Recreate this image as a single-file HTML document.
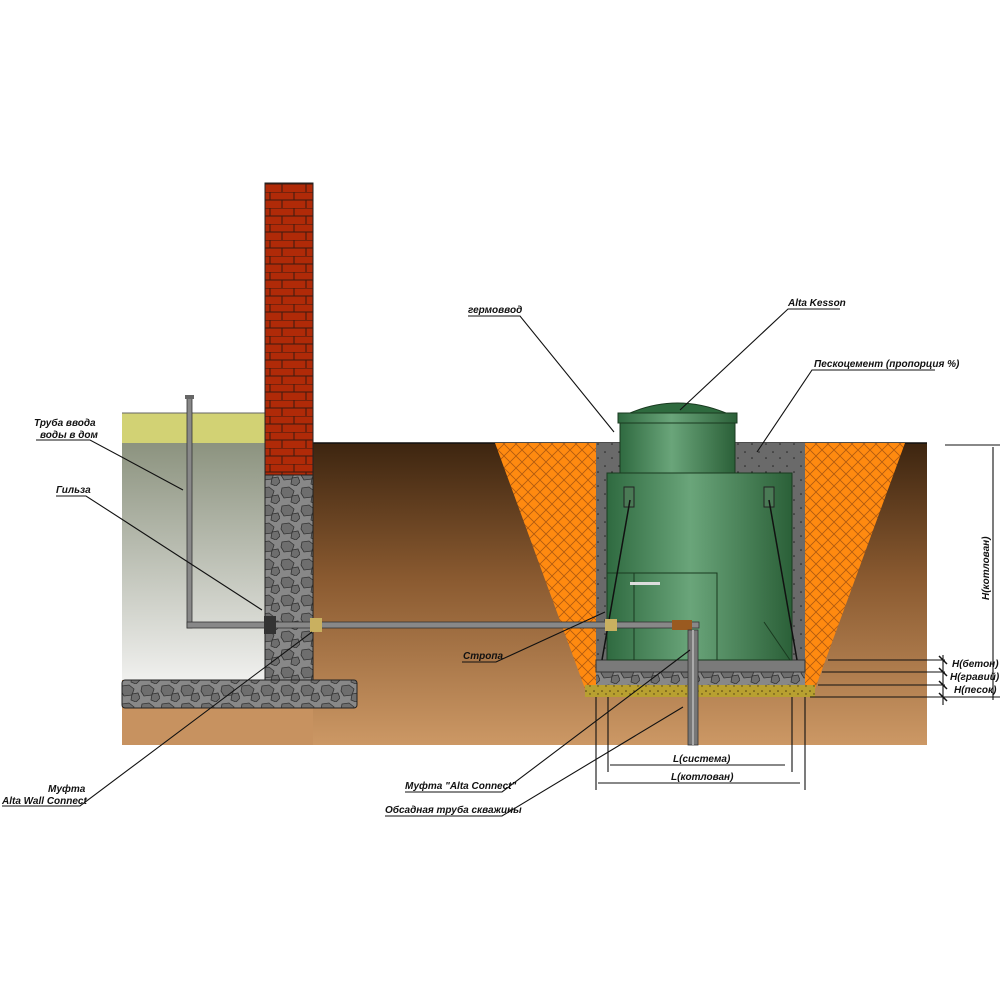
<!DOCTYPE html>
<html><head><meta charset="utf-8"><style>
html,body{margin:0;padding:0;background:#fff;}
svg{display:block}
text{font-family:"Liberation Sans",sans-serif;font-style:italic;font-weight:bold;font-size:10px;fill:#111;}
</style></head><body>
<svg width="1000" height="1000" viewBox="0 0 1000 1000" xmlns="http://www.w3.org/2000/svg">
<defs>
<linearGradient id="soil" x1="0" y1="0" x2="0" y2="1">
<stop offset="0" stop-color="#3d2510"/><stop offset="0.45" stop-color="#8a5a30"/><stop offset="1" stop-color="#cc9865"/></linearGradient>
<linearGradient id="base" x1="0" y1="0" x2="0" y2="1">
<stop offset="0" stop-color="#8c937f"/><stop offset="1" stop-color="#f0f0ee"/></linearGradient>
<linearGradient id="green" x1="0" y1="0" x2="1" y2="0">
<stop offset="0" stop-color="#2f6a40"/><stop offset="0.45" stop-color="#6aa57a"/><stop offset="1" stop-color="#2b6038"/></linearGradient>
<pattern id="brick" width="24" height="16" patternUnits="userSpaceOnUse">
<rect width="24" height="16" fill="#b02a08"/>
<path d="M0 0H24M0 8H24M6 0V8M18 8V16" stroke="#3a1a10" stroke-width="1"/></pattern>
<pattern id="stone" width="20" height="18" patternUnits="userSpaceOnUse">
<rect width="20" height="18" fill="#888"/>
<path d="M2 2l7-1 5 4-2 6-8 1-3-5zM12 10l6-1 2 5-4 4-5-2z" fill="#6e6e6e" stroke="#333" stroke-width="0.8"/></pattern>
<pattern id="net" width="12" height="12" patternUnits="userSpaceOnUse">
<rect width="12" height="12" fill="#ff8a10"/>
<path d="M0 0L12 12M12 0L0 12" stroke="#b05a10" stroke-width="0.8"/></pattern>
<pattern id="conc" width="14" height="14" patternUnits="userSpaceOnUse">
<rect width="14" height="14" fill="#6a6a6a"/>
<circle cx="3" cy="4" r="0.8" fill="#222"/><circle cx="10" cy="10" r="0.8" fill="#222"/></pattern>
<pattern id="sand" width="8" height="8" patternUnits="userSpaceOnUse">
<rect width="8" height="8" fill="#b8a030"/><circle cx="2" cy="3" r="0.8" fill="#4a3a10"/><circle cx="6" cy="6" r="0.7" fill="#4a3a10"/></pattern>
</defs>

<!-- soil -->
<rect x="313" y="443" width="614" height="302" fill="url(#soil)"/>
<rect x="122" y="680" width="191" height="65" fill="#c79260"/>
<line x1="313" y1="443" x2="927" y2="443" stroke="#111" stroke-width="1.5"/>
<!-- basement -->
<rect x="122" y="413" width="143" height="30" fill="#d2d274"/>
<rect x="122" y="443" width="143" height="237" fill="url(#base)"/>
<line x1="122" y1="413" x2="265" y2="413" stroke="#666"/>
<!-- chimney / wall -->
<rect x="265" y="183" width="48" height="292" fill="url(#brick)" stroke="#222"/>
<rect x="265" y="475" width="48" height="205" fill="url(#stone)" stroke="#222"/>
<rect x="122" y="680" width="235" height="28" rx="3" fill="url(#stone)" stroke="#222"/>

<!-- pit -->
<polygon points="495,443 905,443 812,697 588,697" fill="url(#net)"/>
<rect x="596" y="443" width="209" height="217" fill="url(#conc)"/>
<rect x="585" y="685" width="230" height="12" fill="url(#sand)"/>
<rect x="596" y="672" width="209" height="13" fill="url(#stone)"/>
<rect x="596" y="660" width="209" height="12" fill="#7a7a7a" stroke="#333"/>
<!-- caisson -->
<path d="M630 413 Q677 393 726 413Z" fill="#2e6a3e" stroke="#1a3a20"/>
<rect x="618" y="413" width="119" height="10" fill="url(#green)" stroke="#1a3a20"/>
<rect x="620" y="423" width="115" height="52" fill="url(#green)" stroke="#1a3a20"/>
<rect x="607" y="473" width="185" height="187" fill="url(#green)" stroke="#1a3a20"/>
<rect x="607" y="573" width="110" height="87" fill="none" stroke="#1a3a20"/>
<line x1="634" y1="573" x2="634" y2="660" stroke="#1a3a20"/>
<rect x="630" y="582" width="30" height="3" fill="#ddd"/>
<rect x="624" y="487" width="10" height="20" fill="#4a7a55" stroke="#222"/>
<rect x="764" y="487" width="10" height="20" fill="#4a7a55" stroke="#222"/>
<line x1="630" y1="500" x2="602" y2="660" stroke="#111" stroke-width="1.5"/>
<line x1="769" y1="500" x2="797" y2="660" stroke="#111" stroke-width="1.5"/>
<line x1="764" y1="622" x2="790" y2="660" stroke="#1a3a20"/>
<!-- pipes -->
<rect x="187" y="397" width="5" height="231" fill="#888" stroke="#333" stroke-width="0.8"/>
<rect x="185" y="395" width="9" height="4" fill="#666"/>
<rect x="187" y="622" width="512" height="6" fill="#888" stroke="#333" stroke-width="0.8"/>
<rect x="264" y="616" width="12" height="18" fill="#333"/>
<rect x="310" y="618" width="12" height="14" fill="#c9b060"/>
<rect x="605" y="619" width="12" height="12" fill="#c9b060"/>
<rect x="672" y="620" width="20" height="10" fill="#9a5a20"/>
<rect x="688" y="630" width="10" height="115" fill="#777" stroke="#333" stroke-width="0.8"/>
<rect x="692" y="630" width="2" height="115" fill="#aaa"/>

<!-- leaders -->
<g stroke="#111" stroke-width="1.1" fill="none">
<polyline points="468,316 520,316 614,432"/>
<polyline points="840,309 788,309 680,410"/>
<polyline points="935,370 812,370 757,452"/>
<polyline points="36,440 90,440 183,490"/>
<polyline points="56,496 86,496 262,610"/>
<polyline points="462,662 496,662 605,612"/>
<polyline points="2,806 80,806 312,632"/>
<polyline points="405,792 502,792 690,650"/>
<polyline points="385,816 502,816 683,707"/>
<!-- dims -->
<line x1="945" y1="445" x2="1000" y2="445"/>
<line x1="993" y1="447" x2="993" y2="700"/>
<line x1="828" y1="660" x2="945" y2="660"/>
<line x1="822" y1="672" x2="945" y2="672"/>
<line x1="818" y1="685" x2="945" y2="685"/>
<line x1="810" y1="697" x2="1000" y2="697"/>
<line x1="943" y1="655" x2="943" y2="705"/>
<line x1="596" y1="697" x2="596" y2="790"/>
<line x1="805" y1="697" x2="805" y2="790"/>
<line x1="608" y1="697" x2="608" y2="772"/>
<line x1="792" y1="697" x2="792" y2="772"/>
<line x1="610" y1="765" x2="785" y2="765"/>
<line x1="598" y1="783" x2="800" y2="783"/>
</g>
<g stroke="#111" stroke-width="1.5">
<line x1="939" y1="656" x2="947" y2="664"/><line x1="939" y1="668" x2="947" y2="676"/>
<line x1="939" y1="681" x2="947" y2="689"/><line x1="939" y1="693" x2="947" y2="701"/>
</g>

<!-- labels -->
<text x="468" y="313">гермоввод</text>
<text x="788" y="306">Alta Kesson</text>
<text x="814" y="367">Пескоцемент (пропорция %)</text>
<text x="34" y="426">Труба ввода</text>
<text x="40" y="438">воды в дом</text>
<text x="56" y="493">Гильза</text>
<text x="463" y="659">Стропа</text>
<text x="48" y="792">Муфта</text>
<text x="2" y="804">Alta Wall Connect</text>
<text x="405" y="789">Муфта "Alta Connect"</text>
<text x="385" y="813">Обсадная труба скважины</text>
<text x="673" y="762">L(система)</text>
<text x="671" y="780">L(котлован)</text>
<text x="952" y="667">H(бетон)</text>
<text x="950" y="680">H(гравий)</text>
<text x="954" y="693">H(песок)</text>
<text transform="translate(989,600) rotate(-90)">H(котлован)</text>
</svg>
</body></html>
